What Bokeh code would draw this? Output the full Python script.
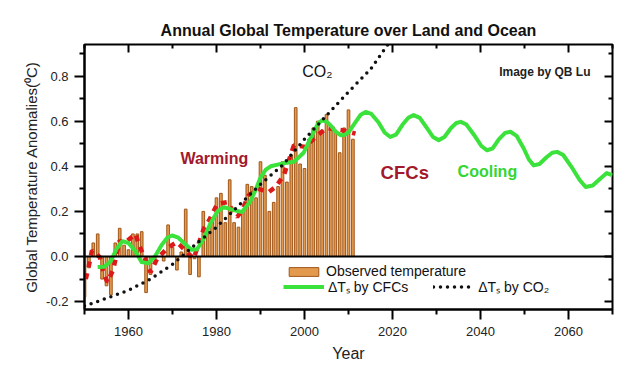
from bokeh.plotting import figure
from bokeh.models import (Range1d, LinearAxis, FixedTicker, NumeralTickFormatter,
                          Span, Label, Legend, LegendItem)
from bokeh.embed import file_html
from bokeh.resources import INLINE

# ---------------- data ----------------
obs_years = list(range(1950, 2012))
obs_values = [-0.18, -0.05, 0.06, 0.10, -0.10, -0.13, -0.17, 0.06, 0.125, 0.05,
              0.03, 0.10, 0.10, 0.11, -0.16, -0.08, -0.01, 0.00, -0.02, 0.14,
              0.04, -0.06, 0.02, 0.21, -0.08, -0.01, -0.09, 0.20, 0.10, 0.17,
              0.26, 0.28, 0.15, 0.34, 0.15, 0.13, 0.20, 0.32, 0.31, 0.26,
              0.42, 0.36, 0.20, 0.24, 0.31, 0.42, 0.33, 0.45, 0.66, 0.41,
              0.39, 0.52, 0.57, 0.60, 0.56, 0.63, 0.58, 0.56, 0.46, 0.57,
              0.65, 0.52]

cfc_years = [1953, 1954.5, 1956, 1957.3, 1958.6, 1960, 1961.5, 1963, 1964.5,
             1966, 1967.5, 1968.8, 1969.9, 1971.2, 1972.6, 1974.3, 1975.6,
             1977.1, 1978.7, 1980.2, 1981.7, 1983.9, 1985.8, 1987.7, 1989,
             1990, 1991.2, 1992.3, 1994.9, 1997.6, 1999.8, 2001, 2002.1, 2003.1,
             2004, 2005, 2005.9, 2007, 2008.2, 2009.2, 2010.1, 2011.4, 2012.7,
             2013.9, 2015.2, 2016.8, 2018.2, 2019.5, 2020.8, 2022.3, 2023.6,
             2024.8, 2026.2, 2027.8, 2029.2, 2030.5, 2031.8, 2033.3, 2034.5,
             2035.5, 2036.8, 2038.5, 2040.2, 2041.5, 2042.8, 2044.2, 2045.6,
             2046.8, 2048.2, 2049.8, 2051, 2052.1, 2053.4, 2055, 2056.3,
             2057.4, 2058.8, 2060.6, 2062.5, 2063.9, 2065.5, 2067.2, 2068.7,
             2070]
cfc_values = [-0.047, -0.045, -0.02, 0.035, 0.068, 0.06, 0.025, -0.025, -0.03,
              0.0, 0.05, 0.083, 0.093, 0.085, 0.06, 0.03, 0.032,
              0.08, 0.15, 0.20, 0.219, 0.206, 0.197, 0.245, 0.30,
              0.35, 0.385, 0.40, 0.412, 0.42, 0.46, 0.51, 0.553, 0.59,
              0.604, 0.598, 0.582, 0.555, 0.538, 0.54, 0.553, 0.59, 0.627,
              0.641, 0.632, 0.595, 0.55, 0.53, 0.54, 0.585, 0.615,
              0.627, 0.615, 0.57, 0.53, 0.516, 0.53, 0.57, 0.592,
              0.597, 0.585, 0.54, 0.49, 0.471, 0.48, 0.52, 0.548,
              0.553, 0.535, 0.48, 0.43, 0.404, 0.41, 0.44, 0.46,
              0.464, 0.45, 0.40, 0.34, 0.308, 0.315, 0.345, 0.37,
              0.36]

red_years = [1950.3, 1951, 1951.7, 1953.5, 1954.4, 1955.2, 1956.5, 1958, 1958.9,
             1961.6, 1962.3, 1965, 1966.5, 1969, 1971, 1974.8, 1977.1, 1978.3,
             1980.2, 1982.4, 1984.7, 1985.8, 1987.3, 1989.5, 1991.9, 1993.4,
             1995.3, 1997.6, 2000.2, 2002.5, 2005, 2008.6, 2011.6]
red_values = [-0.10, -0.04, 0.027, -0.003, -0.077, -0.114, -0.06, 0.071, 0.056,
              0.10, 0.056, -0.07, -0.01, 0.04, 0.064, -0.01, 0.123, 0.16,
              0.234, 0.241, 0.175, 0.204, 0.271, 0.30, 0.286, 0.308,
              0.36, 0.493, 0.486, 0.53, 0.57, 0.56, 0.545]

co2_years = [1950, 1955, 1960, 1965, 1970, 1975, 1980, 1985, 1990, 1995,
             2000, 2005, 2010, 2015, 2020]
co2_values = [-0.22, -0.185, -0.15, -0.10, -0.035, 0.05, 0.13, 0.225, 0.32, 0.405,
              0.52, 0.625, 0.73, 0.83, 0.97]

x_major = [1960, 1980, 2000, 2020, 2040, 2060]
x_minor = [1950, 1970, 1990, 2010, 2030, 2050, 2070]
y_major = [-0.2, 0.0, 0.2, 0.4, 0.6, 0.8]
y_minor = [-0.1, 0.1, 0.3, 0.5, 0.7, 0.9]

FONT = "Liberation Sans"

# ---------------- figure ----------------
p = figure(frame_width=528, frame_height=265,
           x_range=Range1d(1950, 2070), y_range=Range1d(-0.235, 0.94),
           output_backend="svg", toolbar_location=None,
           min_border_left=84, min_border_right=26, min_border_top=44,
           min_border_bottom=61,
           title="Annual Global Temperature over Land and Ocean")
p.title.align = "center"
p.title.text_font = FONT
p.title.text_font_size = "16px"
p.title.text_font_style = "bold"
p.title.text_color = "#111111"
p.title.standoff = 11
p.xgrid.visible = False
p.ygrid.visible = False
p.outline_line_color = "black"
p.outline_line_width = 2
p.background_fill_color = "white"
p.border_fill_color = "white"

xa = p.xaxis[0]
xa.ticker = FixedTicker(ticks=x_major, minor_ticks=x_minor)
xa.formatter = NumeralTickFormatter(format="0")
xa.axis_label = "Year"
ya = p.yaxis[0]
ya.ticker = FixedTicker(ticks=y_major, minor_ticks=y_minor)
ya.formatter = NumeralTickFormatter(format="0.0")
ya.axis_label = "Global Temperature Anomalies(\u2070C)"
for ax in (xa, ya):
    ax.axis_line_width = 2
    ax.axis_line_color = "black"
    ax.major_tick_line_width = 2
    ax.minor_tick_line_width = 2
    ax.major_tick_out = 10
    ax.major_tick_in = 0
    ax.minor_tick_out = 5
    ax.minor_tick_in = 0
    ax.major_label_text_font = FONT
    ax.major_label_text_font_size = "13px"
    ax.major_label_text_color = "#222222"
    ax.axis_label_text_font = FONT
    ax.axis_label_text_font_style = "normal"
    ax.axis_label_text_color = "#222222"
xa.major_label_standoff = 7
xa.axis_label_text_font_size = "16px"
xa.axis_label_standoff = 6
ya.major_label_standoff = 6
ya.axis_label_text_font_size = "15px"
ya.axis_label_standoff = 3

# top and right axes: inward ticks only, no labels
top = LinearAxis(ticker=FixedTicker(ticks=x_major, minor_ticks=x_minor),
                 major_label_overrides={t: "" for t in x_major})
right = LinearAxis(ticker=FixedTicker(ticks=y_major, minor_ticks=y_minor),
                   major_label_overrides={t: "" for t in y_major})
for ax in (top, right):
    ax.major_label_text_font_size = "0px"
    ax.major_label_standoff = 0
    ax.axis_line_color = None
    ax.major_tick_in = 8
    ax.major_tick_out = 0
    ax.minor_tick_in = 4
    ax.minor_tick_out = 0
    ax.major_tick_line_width = 2
    ax.minor_tick_line_width = 2
p.add_layout(top, "above")
p.add_layout(right, "right")

# ---------------- glyphs ----------------
bars = p.vbar(x=obs_years, top=obs_values, bottom=0, width=0.6,
              fill_color="#e39a4e", line_color="#a0561a", line_width=1)

p.add_layout(Span(location=0, dimension="width", line_color="black", line_width=2))

p.line(red_years, red_values, line_color="#dd1a1a", line_width=4.5,
       line_dash="6 6")
green = p.line(cfc_years, cfc_values, line_color="#3be23b", line_width=4,
               line_join="round")
co2 = p.line(co2_years, co2_values, line_color="#111111", line_width=3.5,
             line_dash="0 7", line_cap="round")

# ---------------- texts ----------------
p.add_layout(Label(x=1971.8, y=0.435, text="Warming", text_font=FONT,
                   text_font_style="bold", text_font_size="16px",
                   text_color="#a3182a", text_baseline="middle"))
p.add_layout(Label(x=2017.3, y=0.373, text="CFCs", text_font=FONT,
                   text_font_style="bold", text_font_size="18.5px",
                   text_color="#a3182a", text_baseline="middle"))
p.add_layout(Label(x=2034.8, y=0.378, text="Cooling", text_font=FONT,
                   text_font_style="bold", text_font_size="16px",
                   text_color="#33d633", text_baseline="middle"))
p.add_layout(Label(x=1999.5, y=0.82, text="CO\u2082", text_font=FONT,
                   text_font_size="16px", text_color="#111111",
                   text_baseline="middle"))
p.add_layout(Label(x=2065, y=0.818, text="Image by QB Lu", text_font=FONT,
                   text_font_style="bold", text_font_size="12px",
                   text_color="#222222", text_baseline="middle",
                   text_align="right"))

# ---------------- legends ----------------
common = dict(border_line_color=None, background_fill_alpha=0, padding=0,
              margin=0, label_standoff=4, label_text_font=FONT,
              label_text_font_size="14px", label_text_color="#111111",
              label_height=15, orientation="horizontal")
leg1 = Legend(items=[LegendItem(label="Observed temperature", renderers=[bars])],
              location=(201, 30), glyph_width=37, glyph_height=11, **common)
leg2 = Legend(items=[LegendItem(label="\u0394T\u209b by CFCs", renderers=[green]),
                     LegendItem(label="\u0394T\u209b by CO\u2082", renderers=[co2])],
              location=(199, 13), glyph_width=41, glyph_height=11, spacing=25,
              **common)
p.add_layout(leg1)
p.add_layout(leg2)

open("out.html", "w").write(file_html(p, INLINE))
